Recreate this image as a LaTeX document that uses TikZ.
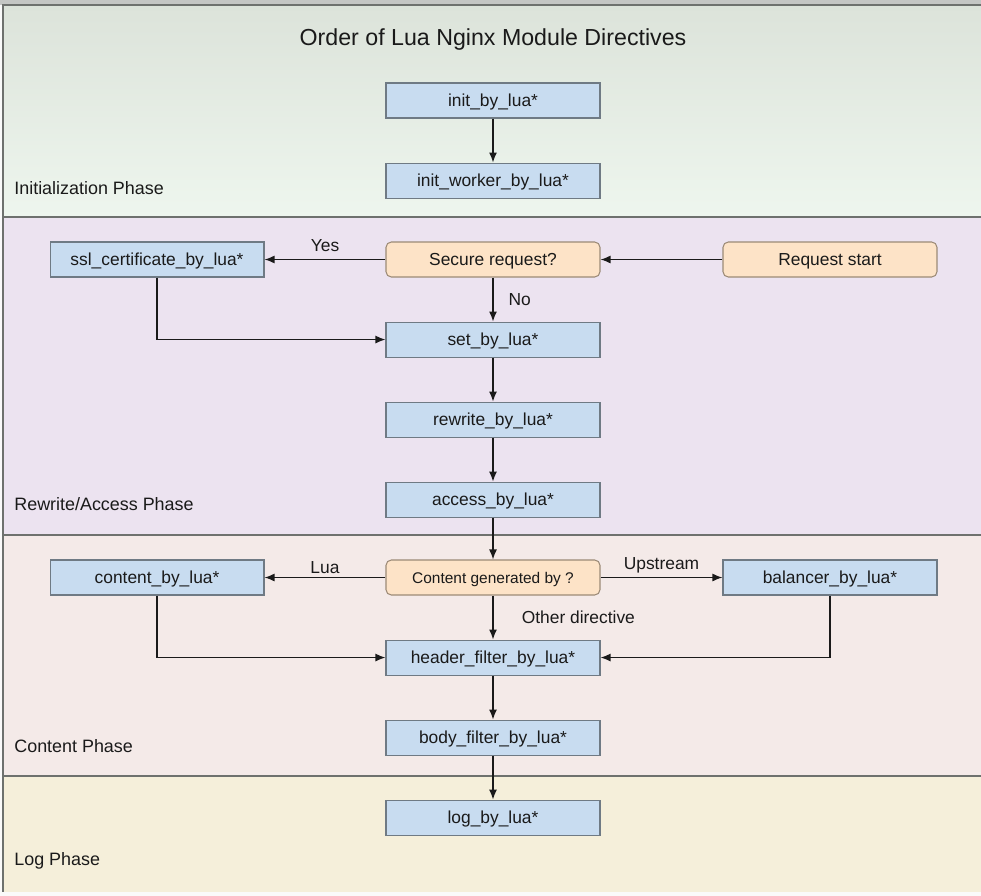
\documentclass[tikz,border=0pt]{standalone}
\usepackage{fontspec}
\setmainfont{Liberation Sans}
\usepackage{tikz}
\usetikzlibrary{arrows.meta,positioning}

\definecolor{topband}{HTML}{C4C6C4}
\definecolor{initbgtop}{HTML}{DCE3DA}
\definecolor{initbgbot}{HTML}{EEF6EE}
\definecolor{rewritebg}{HTML}{ECE3F0}
\definecolor{contentbg}{HTML}{F4EAE8}
\definecolor{logbg}{HTML}{F5EFDA}
\definecolor{luafill}{HTML}{C8DCF0}
\definecolor{luaedge}{HTML}{6F7A84}
\definecolor{askfill}{HTML}{FDE3C7}
\definecolor{askedge}{HTML}{9C8A76}
\definecolor{bandline}{HTML}{6E716E}
\definecolor{ink}{HTML}{1A1A1A}

\begin{document}
\begin{tikzpicture}[x=0.02cm, y=-0.02cm,
    luabox/.style={draw=luaedge, fill=luafill, line width=0.6pt, minimum width=4.28cm, minimum height=0.7cm, inner sep=0pt, text height=8.6pt, text depth=1.4pt, text=ink, font=\fontsize{9.9}{11}\selectfont},
    askbox/.style={luabox, draw=askedge, fill=askfill, rounded corners=3pt},
    flow/.style={draw=ink, line width=0.8pt, -{Latex[length=2mm,width=1.6mm]}},
    edgelabel/.style={text=ink, font=\fontsize{9.9}{11}\selectfont, inner sep=1pt},
    phaselabel/.style={anchor=west, text=ink, font=\fontsize{10.2}{12}\selectfont, inner sep=0pt}]
  \useasboundingbox (0,0) rectangle (981,896);

  % phase bands
  \fill[white!96!gray] (0,0) rectangle (981,896);
  \fill[topband] (0,0) rectangle (981,5);
  \shade[top color=initbgtop, bottom color=initbgbot] (3,5) rectangle (981,217);
  \fill[rewritebg] (3,217) rectangle (981,535);
  \fill[contentbg] (3,535) rectangle (981,776);
  \fill[logbg] (3,776) rectangle (981,892);
  \draw[bandline, line width=1.2pt] (981,5) -- (3,5) -- (3,892);
  \foreach \y in {217,535,776}
    \draw[bandline, line width=1.2pt] (3,\y) -- (981,\y);

  \node (title) at (493,40) [text=ink, font=\fontsize{13.2}{15}\selectfont] {Order of Lua Nginx Module Directives};

  \node (initphase) at (14,188) [phaselabel] {Initialization Phase};
  \node (rewritephase) at (14,504) [phaselabel] {Rewrite/Access Phase};
  \node (contentphase) at (14,746) [phaselabel] {Content Phase};
  \node (logphase) at (14,861) [phaselabel] {Log Phase};

  % directives
  \node (initlua) at (493,100.5) [luabox] {init\_by\_lua*};
  \node (initworker) [luabox, below=0.88cm of initlua] {init\_worker\_by\_lua*};

  \node (secure) at (493,259.5) [askbox] {Secure request?};
  \node (ssl) [luabox, left=2.42cm of secure] {ssl\_certificate\_by\_lua*};
  \node (reqstart) [askbox, right=2.44cm of secure] {Request start};
  \node (setlua) [luabox, below=0.88cm of secure] {set\_by\_lua*};
  \node (rewritelua) [luabox, below=0.88cm of setlua] {rewrite\_by\_lua*};
  \node (accesslua) [luabox, below=0.88cm of rewritelua] {access\_by\_lua*};

  \node (contentgen) at (493,577.5) [askbox, font=\fontsize{8.8}{10}\selectfont] {Content generated by ?};
  \node (contentlua) [luabox, left=2.42cm of contentgen] {content\_by\_lua*};
  \node (balancer) [luabox, right=2.44cm of contentgen] {balancer\_by\_lua*};
  \node (headerfilter) [luabox, below=0.88cm of contentgen] {header\_filter\_by\_lua*};
  \node (bodyfilter) [luabox, below=0.88cm of headerfilter] {body\_filter\_by\_lua*};
  \node (loglua) [luabox, below=0.88cm of bodyfilter] {log\_by\_lua*};

  % connectors
  \draw[flow] (initlua) -- (initworker);
  \draw[flow] (reqstart) -- (secure);
  \draw[flow] (secure) -- node[edgelabel, above=3pt] {Yes} (ssl);
  \draw[flow] (secure) -- node[edgelabel, right=7.5pt] {No} (setlua);
  \draw[flow] (ssl) |- (setlua);
  \draw[flow] (setlua) -- (rewritelua);
  \draw[flow] (rewritelua) -- (accesslua);
  \draw[flow] (accesslua) -- (contentgen);
  \draw[flow] (contentgen) -- node[edgelabel, above=1pt] {Lua} (contentlua);
  \draw[flow] (contentgen) -- node[edgelabel, above=1pt] {Upstream} (balancer);
  \draw[flow] (contentgen) -- node[edgelabel, right=15pt] {Other directive} (headerfilter);
  \draw[flow] (contentlua) |- (headerfilter);
  \draw[flow] (balancer) |- (headerfilter);
  \draw[flow] (headerfilter) -- (bodyfilter);
  \draw[flow] (bodyfilter) -- (loglua);
\end{tikzpicture}
\end{document}
